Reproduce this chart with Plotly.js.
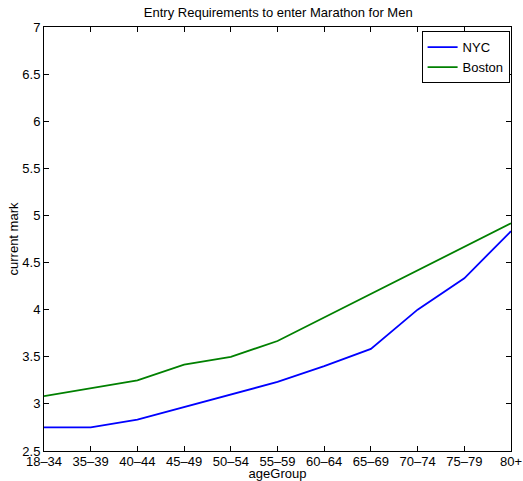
<!DOCTYPE html>
<html>
<head>
<meta charset="utf-8">
<script src="https://cdn.plot.ly/plotly-3.0.1.min.js"></script>
<style>
  html, body { margin: 0; padding: 0; background: #fff; }
  #chart { width: 523px; height: 481px; }
</style>
</head>
<body>
<div id="chart"></div>
<script>
// Age groups on the x axis
const ageGroups = ['18\u201334', '35\u201339', '40\u201344', '45\u201349', '50\u201354', '55\u201359',
                   '60\u201364', '65\u201369', '70\u201374', '75\u201379', '80+'];
// Qualifying marks in hours
const nycMarks = [2.75, 2.75, 2.833, 2.967, 3.1, 3.233, 3.4, 3.583, 4.0, 4.333, 4.833];
const bostonMarks = [3.083, 3.167, 3.25, 3.417, 3.5, 3.667, 3.917, 4.167, 4.417, 4.667, 4.917];
const yTicks = [2.5, 3, 3.5, 4, 4.5, 5, 5.5, 6, 6.5, 7];

const font = { family: 'Liberation Sans, Arial, sans-serif', size: 13, color: '#000' };

const traces = [
  { x: ageGroups, y: nycMarks, name: 'NYC', type: 'scatter', mode: 'lines',
    line: { color: '#0000ff', width: 1.8 } },
  { x: ageGroups, y: bostonMarks, name: 'Boston', type: 'scatter', mode: 'lines',
    line: { color: '#008000', width: 1.8 } }
];

const axisCommon = {
  showline: true, linecolor: '#000', linewidth: 1, mirror: 'ticks',
  ticks: 'inside', ticklen: 5, tickcolor: '#000', tickwidth: 1,
  showgrid: false, zeroline: false, automargin: false,
  tickfont: font
};

const layout = {
  width: 523, height: 481,
  paper_bgcolor: '#fff', plot_bgcolor: '#fff',
  font: font,
  margin: { l: 44, r: 12, t: 27, b: 30, pad: 0 },
  title: { text: 'Entry Requirements to enter Marathon for Men',
           font: { family: font.family, size: 13, color: '#000' },
           x: 0.532, xanchor: 'center', y: 0.975, yanchor: 'middle' },
  xaxis: Object.assign({}, axisCommon, {
    type: 'category', range: [0, 10],
    tickvals: ageGroups, ticktext: ageGroups,
    ticklabelstandoff: -2,
    title: { text: 'ageGroup', font: font, standoff: 2 }
  }),
  yaxis: Object.assign({}, axisCommon, {
    range: [2.5, 7], tickvals: yTicks, ticktext: yTicks.map(String),
    title: { text: 'current mark', font: font, standoff: 0 }
  }),
  showlegend: true,
  legend: {
    x: 0.997, xanchor: 'right', y: 0.99, yanchor: 'top',
    bgcolor: '#fff', bordercolor: '#000', borderwidth: 1,
    font: { family: font.family, size: 13, color: '#000' },
    tracegroupgap: 0, itemwidth: 30
  }
};

Plotly.newPlot('chart', traces, layout, { displayModeBar: false, staticPlot: true });
</script>
</body>
</html>
